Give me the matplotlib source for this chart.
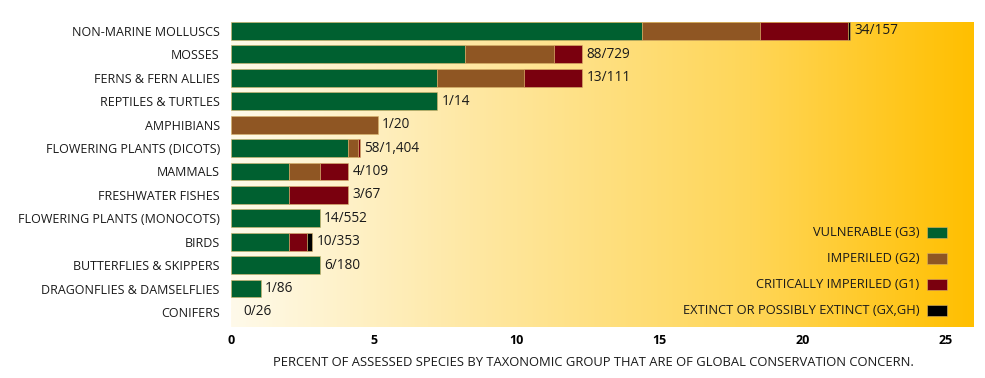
import numpy as np
import matplotlib.pyplot as plt
from matplotlib.colors import LinearSegmentedColormap
from matplotlib.patches import Rectangle

plt.rcParams['font.family'] = ['Open Sans', 'DejaVu Sans']

groups = ["NON-MARINE MOLLUSCS", "MOSSES", "FERNS & FERN ALLIES", "REPTILES & TURTLES",
          "AMPHIBIANS", "FLOWERING PLANTS (DICOTS)", "MAMMALS", "FRESHWATER FISHES",
          "FLOWERING PLANTS (MONOCOTS)", "BIRDS", "BUTTERFLIES & SKIPPERS",
          "DRAGONFLIES & DAMSELFLIES", "CONIFERS"]
g3 = [14.37, 8.2, 7.22, 7.22, 0, 4.1, 2.03, 2.04, 3.1, 2.03, 3.1, 1.04, 0]
g2 = [4.13, 3.11, 3.05, 0, 5.14, 0.34, 1.07, 0, 0, 0, 0, 0, 0]
g1 = [3.08, 0.98, 2.03, 0, 0, 0.08, 1.0, 2.06, 0, 0.64, 0, 0, 0]
gx = [0.08, 0, 0, 0, 0, 0, 0, 0, 0, 0.17, 0, 0, 0]
counts = ["34/157", "88/729", "13/111", "1/14", "1/20", "58/1,404", "4/109", "3/67",
          "14/552", "10/353", "6/180", "1/86", "0/26"]

series = [("VULNERABLE (G3)", g3, "#006030"),
          ("IMPERILED (G2)", g2, "#8f5623"),
          ("CRITICALLY IMPERILED (G1)", g1, "#7a000e"),
          ("EXTINCT OR POSSIBLY EXTINCT (GX,GH)", gx, "#000000")]

fig = plt.figure(figsize=(9.85, 3.78), dpi=100)
ax = fig.add_axes([0.2345, 0.135, 0.7543, 0.807])

# background gradient
bg = LinearSegmentedColormap.from_list("bg", [(0.0, "#fffaea"), (0.3, "#fee9a8"),
                                              (0.7, "#ffd658"), (1.0, "#ffbf00")])
ax.imshow(np.linspace(0, 1, 256).reshape(1, -1), cmap=bg, aspect="auto",
          extent=[0, 26, 12.64, -0.385], zorder=0)

y = np.arange(len(groups))
left = np.zeros(len(groups))
for label, vals, color in series:
    vals = np.array(vals)
    m = vals > 0
    ax.barh(y[m], vals[m], left=left[m], height=0.76, color=color, edgecolor="#d9b46a",
            linewidth=0.4, zorder=2)
    left += vals

for yi, total, c in zip(y, left, counts):
    off = 0.15 if total > 0 else 0.45
    ax.text(total + off, yi, c, va="center", ha="left", fontsize=9.8, color="#1a1a1a", zorder=3)

# legend
for i, (label, vals, color) in enumerate(series):
    yy = 0.31 - i * 0.085
    ax.text(0.927, yy, label, transform=ax.transAxes, ha="right", va="center",
            fontsize=9.3, color="#1a1a1a", zorder=3)
    ax.add_patch(Rectangle((0.937, yy - 0.018), 0.027, 0.036, transform=ax.transAxes,
                           facecolor=color, edgecolor="#d9b46a", linewidth=0.4, zorder=3))

ax.set_xlim(0, 26)
ax.set_ylim(12.64, -0.385)
ax.set_yticks(y)
ax.set_yticklabels(groups, fontsize=9, color="#1a1a1a")
ax.set_xticks([0, 5, 10, 15, 20, 25])
ax.set_xticklabels(["0", "5", "10", "15", "20", "25"], fontsize=9, fontweight="bold")
ax.tick_params(length=0)
ax.tick_params(axis="x", pad=5)
ax.tick_params(axis="y", pad=8)
for s in ax.spines.values():
    s.set_visible(False)
fig.text(0.602, 0.042, "PERCENT OF ASSESSED SPECIES BY TAXONOMIC GROUP THAT ARE OF GLOBAL CONSERVATION CONCERN.",
         ha="center", va="center", fontsize=9.4, color="#1a1a1a")

fig.savefig("out.png", dpi=100)
